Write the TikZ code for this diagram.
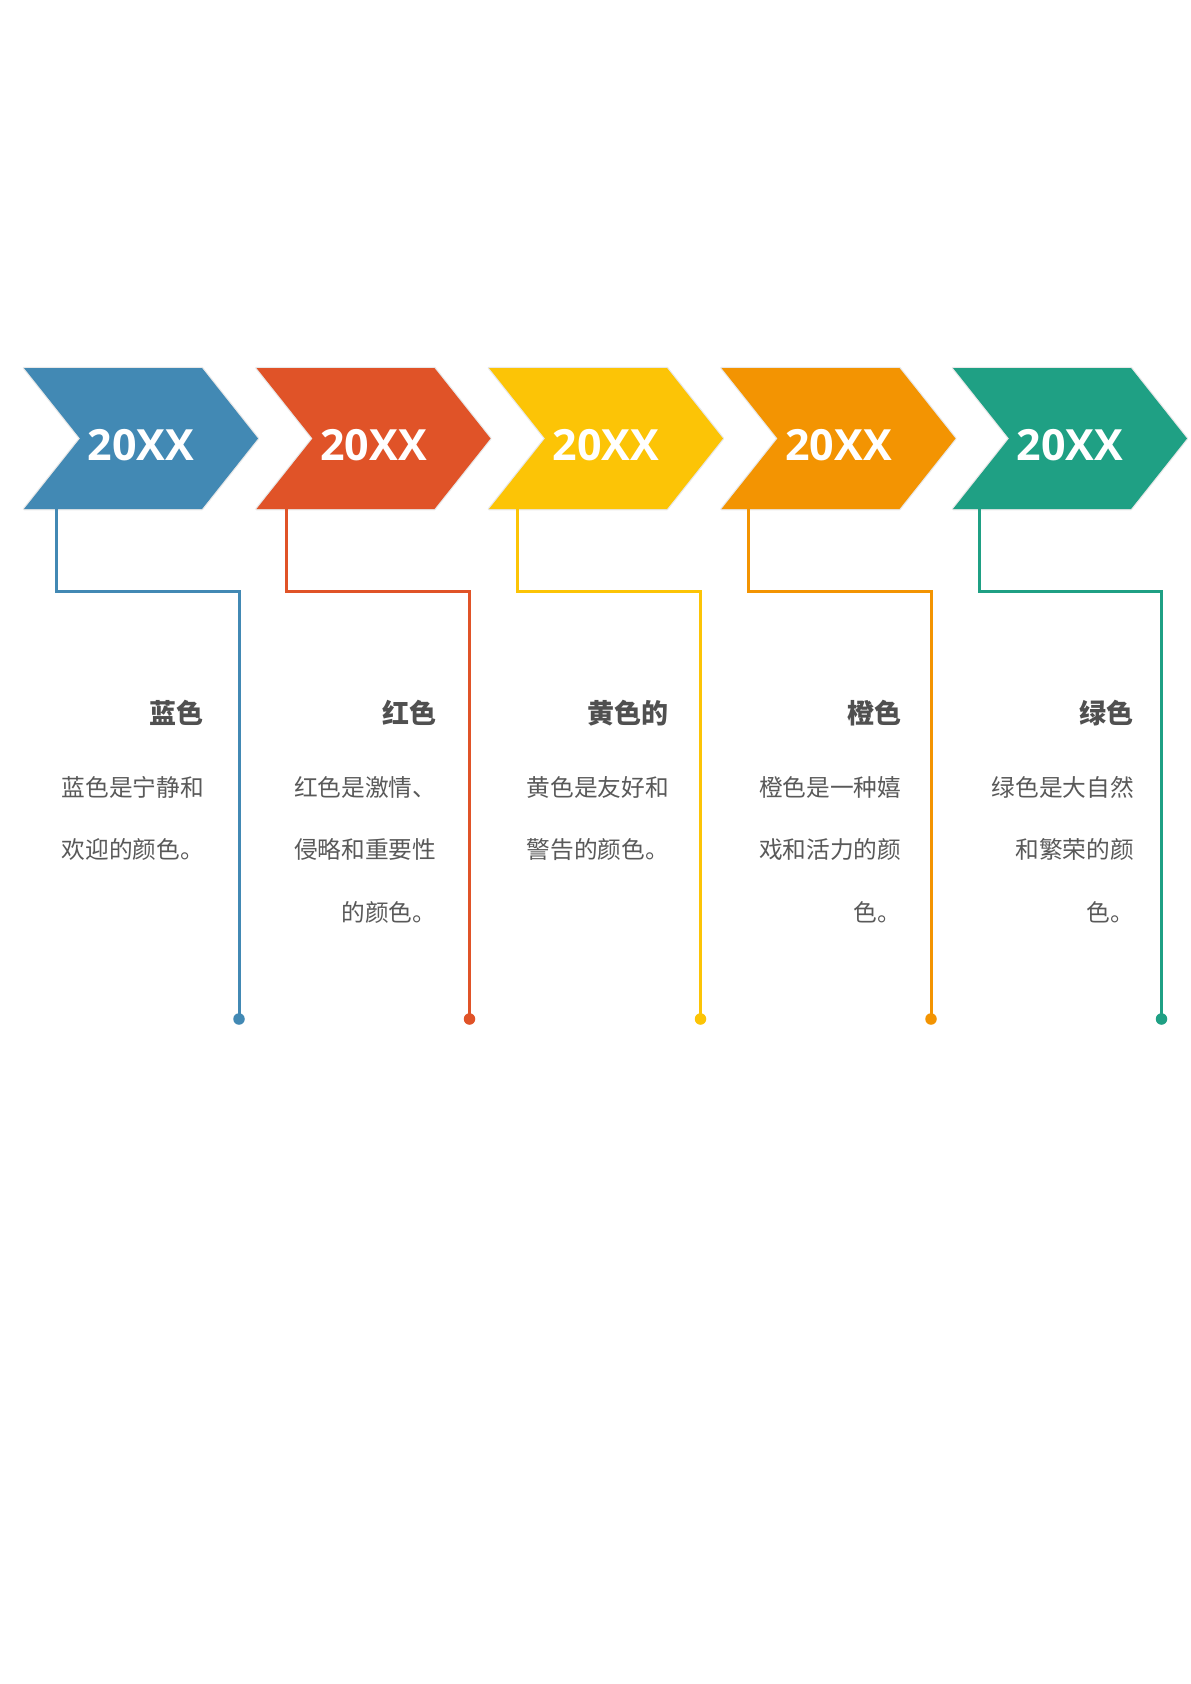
\documentclass[tikz,border=0pt]{standalone}
\usepackage{fontspec}
\setmainfont{Noto Sans CJK SC}
\newfontfamily\yearfont{Open Sans}
\usepackage{xcolor}
\definecolor{lanse}{RGB}{66,137,180}
\definecolor{hongse}{RGB}{224,83,40}
\definecolor{huangse}{RGB}{252,196,6}
\definecolor{chengse}{RGB}{243,148,2}
\definecolor{lvse}{RGB}{31,160,132}
\definecolor{wenzi}{RGB}{89,89,89}
\definecolor{biaoti}{RGB}{80,80,80}
\usetikzlibrary{calc,positioning}

\tikzset{
    chev/.style={fill=#1, preaction={draw=black!9, line width=2.5pt, line join=round}},
    year/.style={text=white, inner sep=0pt, anchor=base,
        font=\yearfont\bfseries\fontsize{43}{43}\selectfont},
    headline/.style={text=biaoti, inner sep=0pt, anchor=base east,
        font=\bfseries\fontsize{27}{27}\selectfont},
    % 多行文字:锚点取最后一行的基线
    bodytext/.style={text=wenzi, inner sep=0pt, anchor=base east, align=right,
        font=\fontsize{23.7}{62.5}\selectfont},
    link/.style={draw=#1, line width=3pt, line join=miter},
    enddot/.style={circle, fill=#1, inner sep=0pt, minimum size=11.5pt},
}

\begin{document}
\begin{tikzpicture}[x=1pt, y=-1pt]
    \useasboundingbox (0,0) rectangle (1191,1684);
    % 箭头块:宽 234,高 141,尖角深 56
    \fill[chev=lanse]   (24,368)    -- ++(178,0) -- ++(56,70.5) -- ++(-56,70.5) -- ++(-178,0) -- ++(56,-70.5) -- cycle;
    \fill[chev=hongse]  (256.5,368) -- ++(178,0) -- ++(56,70.5) -- ++(-56,70.5) -- ++(-178,0) -- ++(56,-70.5) -- cycle;
    \fill[chev=huangse] (489,368)   -- ++(178,0) -- ++(56,70.5) -- ++(-56,70.5) -- ++(-178,0) -- ++(56,-70.5) -- cycle;
    \fill[chev=chengse] (721.5,368) -- ++(178,0) -- ++(56,70.5) -- ++(-56,70.5) -- ++(-178,0) -- ++(56,-70.5) -- cycle;
    \fill[chev=lvse]    (953,368)   -- ++(178,0) -- ++(56,70.5) -- ++(-56,70.5) -- ++(-178,0) -- ++(56,-70.5) -- cycle;
    % 年份
    \node[year] (year1) at (141,460)   {20XX};
    \node[year] (year2) at (373.5,460) {20XX};
    \node[year] (year3) at (606,460)   {20XX};
    \node[year] (year4) at (838.5,460) {20XX};
    \node[year] (year5) at (1070,460)  {20XX};
    % 连线起点、拐点与端点圆点
    \coordinate (s1) at (56,509);
    \coordinate (s2) at (286.5,509);
    \coordinate (s3) at (517.5,509);
    \coordinate (s4) at (748,509);
    \coordinate (s5) at (979,509);
    \node[enddot=lanse]   (d1) at (239,1019)   {};
    \node[enddot=hongse]  (d2) at (469.5,1019) {};
    \node[enddot=huangse] (d3) at (700.5,1019) {};
    \node[enddot=chengse] (d4) at (931,1019)   {};
    \node[enddot=lvse]    (d5) at (1161.5,1019) {};
    \draw[link=lanse]   (s1) |- (d1.center |- 0,591) -- (d1.center);
    \draw[link=hongse]  (s2) |- (d2.center |- 0,591) -- (d2.center);
    \draw[link=huangse] (s3) |- (d3.center |- 0,591) -- (d3.center);
    \draw[link=chengse] (s4) |- (d4.center |- 0,591) -- (d4.center);
    \draw[link=lvse]    (s5) |- (d5.center |- 0,591) -- (d5.center);
    % 标题
    \node[headline] (title1) at (204,723)    {蓝色};
    \node[headline] (title2) at (436.5,723)  {红色};
    \node[headline] (title3) at (669,723)    {黄色的};
    \node[headline] (title4) at (901.5,723)  {橙色};
    \node[headline] (title5) at (1134,723)   {绿色};
    % 说明文字(右对齐)
    \node[bodytext] (body1) at (204,858.5)  {蓝色是宁静和\\欢迎的颜色。};
    \node[bodytext] (body2) at (436.5,921)  {红色是激情、\\侵略和重要性\\的颜色。};
    \node[bodytext] (body3) at (669,858.5)  {黄色是友好和\\警告的颜色。};
    \node[bodytext] (body4) at (901.5,921)  {橙色是一种嬉\\戏和活力的颜\\色。};
    \node[bodytext] (body5) at (1134,921)   {绿色是大自然\\和繁荣的颜\\色。};
\end{tikzpicture}
\end{document}
